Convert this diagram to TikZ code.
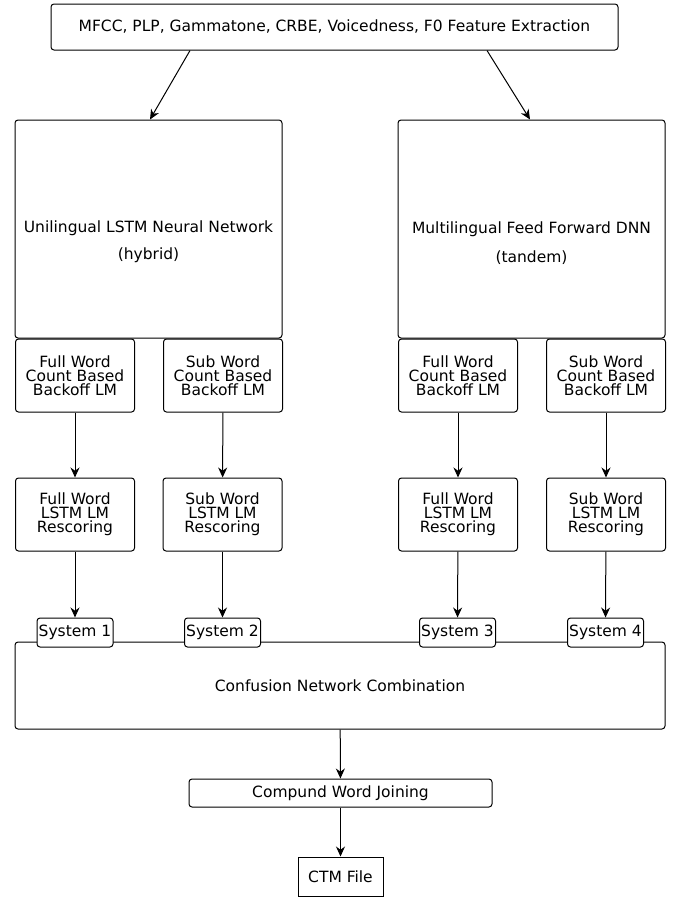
\documentclass[tikz,border=0pt]{standalone}
\usepackage{fontspec}
\setmainfont{DejaVu Sans}
\usetikzlibrary{positioning}
\usetikzlibrary{arrows.meta}

\begin{document}
\begin{tikzpicture}[x=1pt, y=-1pt, font=\fontsize{15.5}{14}\selectfont,
  block/.style={draw, rounded corners=3pt, line width=1pt, inner sep=0pt, align=center, fill=white},
  lmbox/.style={block, minimum width=119pt, minimum height=73pt},
  sysbox/.style={block, minimum width=76pt, minimum height=29pt},
  arr/.style={-{Stealth[length=10pt,width=9pt]}, line width=1pt}]
            \useasboundingbox (0,0) rectangle (675,897);
            \node[block, minimum width=567pt, minimum height=46pt] (feat) at (334.5,27) {MFCC, PLP, Gammatone, CRBE, Voicedness, F0 Feature Extraction};

            \node[block, minimum width=267pt, minimum height=218pt] (uni) at (148.5,229) {};
            \node[align=center] (unitext) at (148.5,242) {Unilingual LSTM Neural Network\\[11pt](hybrid)};
            \node[block, minimum width=267pt, minimum height=218pt] (multi) at (531.5,229) {};
            \node[align=center] (multitext) at (531.5,243) {Multilingual Feed Forward DNN\\[13pt](tandem)};

            \node[lmbox] (cfull1) at (75,375.5) {Full Word\\Count Based\\Backoff LM};
            \node[lmbox] (csub1) at (223,375.5) {Sub Word\\Count Based\\Backoff LM};
            \node[lmbox] (cfull2) at (458,375.5) {Full Word\\Count Based\\Backoff LM};
            \node[lmbox] (csub2) at (606,375.5) {Sub Word\\Count Based\\Backoff LM};

            \node[lmbox] (rfull1) at (75,514.5) {Full Word\\LSTM LM\\Rescoring};
            \node[lmbox] (rsub1) at (222.5,514.5) {Sub Word\\LSTM LM\\Rescoring};
            \node[lmbox] (rfull2) at (458,514.5) {Full Word\\LSTM LM\\Rescoring};
            \node[lmbox] (rsub2) at (606,514.5) {Sub Word\\LSTM LM\\Rescoring};

            \node[block, minimum width=650pt, minimum height=87pt] (cnc) at (340,685.5) {Confusion Network Combination};
            \node[sysbox] (sys1) at (75,632.5) {System 1};
            \node[sysbox] (sys2) at (222.5,632.5) {System 2};
            \node[sysbox] (sys3) at (457.5,632.5) {System 3};
            \node[sysbox] (sys4) at (605.5,632.5) {System 4};

            \node[block, minimum width=303pt, minimum height=28pt] (join) at (340.5,793) {Compund Word Joining};
            \node[draw, line width=1pt, minimum width=85pt, minimum height=39pt] (ctm) at (340.5,876.5) {CTM File};

            \draw[arr] ([xshift=-144.5pt]feat.south) -- ([xshift=1.5pt]uni.north);
            \draw[arr] ([xshift=152.5pt]feat.south) -- ([xshift=-1.5pt]multi.north);

            \draw[arr] (cfull1) -- (rfull1);
            \draw[arr] (csub1) -- (rsub1);
            \draw[arr] (cfull2) -- (rfull2);
            \draw[arr] (csub2) -- (rsub2);

            \draw[arr] (rfull1) -- (sys1);
            \draw[arr] (rsub1) -- (sys2);
            \draw[arr] (rfull2) -- (sys3);
            \draw[arr] (rsub2) -- (sys4);

            \draw[arr] (cnc) -- (join);
            \draw[arr] (join) -- (ctm);
        \end{tikzpicture}
\end{document}
